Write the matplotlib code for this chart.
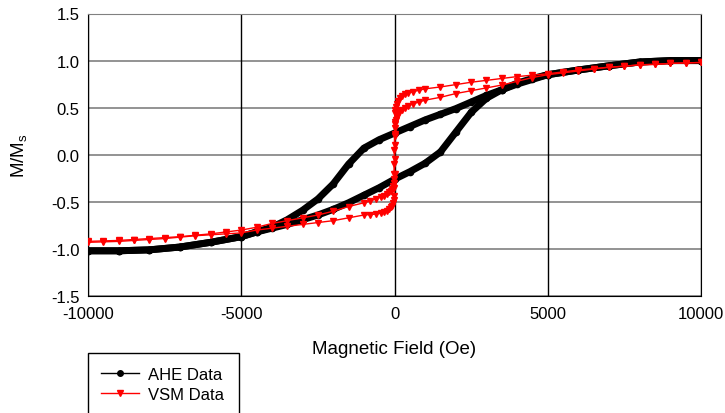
"""AHE vs VSM hysteresis loops, normalised magnetisation against field."""

import matplotlib
matplotlib.use("Agg")
import matplotlib.pyplot as plt
from matplotlib.lines import Line2D
from matplotlib.patches import Rectangle

plt.rcParams["font.family"] = ["Liberation Sans", "DejaVu Sans"]
plt.rcParams["mathtext.default"] = "regular"
plt.rcParams["axes.unicode_minus"] = False

# --- AHE data ---
# sweep down, +10 kOe -> -10 kOe
ahe_down_field = [10000, 9000, 8000, 7000, 6000, 5000, 4500, 4000, 3500, 3000,
                  2500, 2000, 1500, 1000, 500, 0, -500, -1000, -1500, -2000,
                  -2500, -3000, -3500, -4000, -4500, -5000, -6000, -7000,
                  -8000, -9000, -10000]
ahe_down_m = [1.00, 1.00, 0.985, 0.945, 0.90, 0.85, 0.80, 0.75, 0.69, 0.63,
              0.56, 0.49, 0.43, 0.37, 0.30, 0.23, 0.16, 0.07, -0.10, -0.31,
              -0.47, -0.59, -0.69, -0.77, -0.82, -0.87, -0.93, -0.98,
              -1.01, -1.02, -1.02]
# sweep up, -10 kOe -> +10 kOe
ahe_up_field = [-10000, -9000, -8000, -7000, -6000, -5000, -4500, -4000, -3500,
                -3000, -2500, -2000, -1500, -1000, -500, 0, 500, 1000, 1500,
                2000, 2500, 3000, 3500, 4000, 4500, 5000, 6000, 7000, 8000,
                9000, 10000]
ahe_up_m = [-1.02, -1.02, -1.01, -0.98, -0.93, -0.87, -0.82, -0.78, -0.74,
            -0.69, -0.64, -0.58, -0.51, -0.43, -0.35, -0.26, -0.18, -0.09,
            0.03, 0.24, 0.45, 0.60, 0.69, 0.76, 0.81, 0.85, 0.90, 0.945,
            0.985, 1.00, 1.00]

# --- VSM data ---
vsm_down_field = [10000, 9500, 9000, 8500, 8000, 7500, 7000, 6500, 6000, 5500,
                  5000, 4500, 4000, 3500, 3000, 2500, 2000, 1500, 1000, 800,
                  600, 450, 350, 250, 180, 120, 80, 50, 30, 15, 5, 0, -5, -10,
                  -15, -20, -30, -50, -80, -120, -180, -250, -350, -450, -600,
                  -800, -1000, -1500, -2000, -2500, -3000, -3500, -4000,
                  -4500, -5000, -5500, -6000, -6500, -7000, -7500, -8000,
                  -8500, -9000, -9500, -10000]
vsm_down_m = [0.98, 0.975, 0.97, 0.96, 0.955, 0.94, 0.93, 0.915, 0.90, 0.88,
              0.86, 0.845, 0.83, 0.81, 0.79, 0.77, 0.745, 0.72, 0.70, 0.685,
              0.67, 0.655, 0.64, 0.62, 0.60, 0.57, 0.54, 0.51, 0.48, 0.44,
              0.35, 0.20, 0.05, -0.10, -0.20, -0.26, -0.30, -0.33, -0.36,
              -0.38, -0.40, -0.42, -0.44, -0.45, -0.47, -0.49, -0.51, -0.55,
              -0.60, -0.64, -0.67, -0.70, -0.73, -0.77, -0.80, -0.82, -0.84,
              -0.855, -0.87, -0.88, -0.89, -0.90, -0.91, -0.915, -0.92]
vsm_up_field = [-10000, -9500, -9000, -8500, -8000, -7500, -7000, -6500, -6000,
                -5500, -5000, -4500, -4000, -3500, -3000, -2500, -2000, -1500,
                -1000, -800, -600, -450, -350, -250, -180, -120, -80, -50, -30,
                -15, -5, 0, 5, 10, 15, 20, 30, 50, 80, 120, 180, 250, 350, 450,
                600, 800, 1000, 1500, 2000, 2500, 3000, 3500, 4000, 4500, 5000,
                5500, 6000, 6500, 7000, 7500, 8000, 8500, 9000, 9500, 10000]
vsm_up_m = [-0.93, -0.925, -0.92, -0.91, -0.90, -0.89, -0.875, -0.86, -0.85,
            -0.84, -0.83, -0.80, -0.78, -0.76, -0.74, -0.72, -0.70, -0.67,
            -0.64, -0.635, -0.63, -0.62, -0.61, -0.60, -0.58, -0.56, -0.54,
            -0.51, -0.48, -0.44, -0.35, -0.20, -0.05, 0.10, 0.22, 0.28, 0.33,
            0.37, 0.40, 0.43, 0.46, 0.48, 0.50, 0.52, 0.54, 0.56, 0.58, 0.61,
            0.65, 0.68, 0.71, 0.74, 0.78, 0.82, 0.85, 0.87, 0.89, 0.91, 0.93,
            0.94, 0.955, 0.96, 0.97, 0.975, 0.98]

x_ticks = [-10000, -5000, 0, 5000, 10000]
y_ticks = [-1.5, -1.0, -0.5, 0.0, 0.5, 1.0, 1.5]


def build_figure():
    fig = plt.figure(figsize=(7.25, 4.14), dpi=100)
    ax = fig.add_axes([88 / 725, 1 - 297 / 414, (701 - 88) / 725, (297 - 14.5) / 414])

    # grid: grey horizontal lines, black vertical lines
    for y in y_ticks:
        ax.axhline(y, color="#808080", lw=1.2, zorder=1)
    for x in x_ticks:
        ax.axvline(x, color="black", lw=1.0, zorder=1)

    # AHE: dense points -> looks like a thick black line
    for f, m in [(ahe_down_field, ahe_down_m), (ahe_up_field, ahe_up_m)]:
        ax.plot(f, m, color="black", lw=5, marker="o", ms=4.5,
                solid_capstyle="round", solid_joinstyle="round", zorder=3)

    # VSM: thin red line with down triangles
    for f, m in [(vsm_down_field, vsm_down_m), (vsm_up_field, vsm_up_m)]:
        ax.plot(f, m, color="red", lw=1.0, marker="v", ms=4.5, zorder=4)

    ax.set_xlim(-10000, 10000)
    ax.set_ylim(-1.5, 1.5)
    ax.set_xticks(x_ticks)
    ax.set_yticks(y_ticks)
    ax.set_yticklabels([f"{v:.1f}" for v in y_ticks])
    ax.tick_params(length=0, labelsize=12, pad=6)
    ax.tick_params(axis="x", pad=7)

    for side in ["left", "bottom", "right"]:
        ax.spines[side].set_color("black")
    ax.spines["top"].set_color("#808080")

    ax.set_xlabel("Magnetic Field (Oe)", fontsize=13.5, labelpad=14)
    ax.set_ylabel("M/M$_s$", fontsize=13.5, labelpad=16)

    # legend below the plot, its box runs off the bottom of the image
    handles = [
        Line2D([], [], color="black", lw=1, marker="o", ms=4),
        Line2D([], [], color="red", lw=1, marker="v", ms=4.5),
    ]
    fig.legend(handles, ["AHE Data", "VSM Data"], loc="upper left",
               bbox_to_anchor=(101 / 725, 1 - 368 / 414), frameon=False,
               fontsize=12, handlelength=2.3, handletextpad=0.55,
               labelspacing=0.3, borderaxespad=0, borderpad=0)
    fig.add_artist(Rectangle((88 / 725, -0.05), (239 - 88) / 725,
                             (414 - 354) / 414 + 0.05, transform=fig.transFigure,
                             fill=False, lw=1, edgecolor="black"))
    return fig


def main():
    fig = build_figure()
    fig.savefig("out.png", dpi=100)
    plt.close(fig)


if __name__ == "__main__":
    main()
